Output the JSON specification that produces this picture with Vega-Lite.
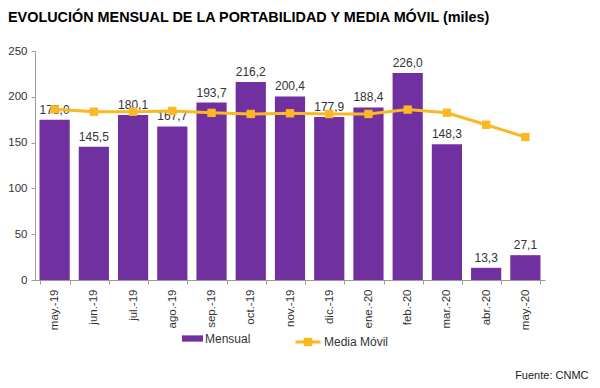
{
  "$schema": "https://vega.github.io/schema/vega-lite/v6.json",
  "width": 510,
  "height": 229,
  "autosize": {"type": "none"},
  "padding": {"left": 35, "top": 51, "right": 55, "bottom": 108},
  "background": "white",
  "title": {
    "text": "EVOLUCIÓN MENSUAL DE LA PORTABILIDAD Y MEDIA MÓVIL (miles)",
    "anchor": "start",
    "frame": "group",
    "dx": -27,
    "offset": 20,
    "font": "Liberation Sans",
    "fontSize": 14.4,
    "fontWeight": "bold",
    "color": "#000000"
  },
  "config": {
    "locale": {"number": {"decimal": ",", "thousands": ".", "grouping": [3], "currency": ["", " €"]}},
    "view": {"stroke": null},
    "axis": {
      "labelFont": "Liberation Sans",
      "labelFontSize": 11.5,
      "labelColor": "#333333",
      "domainColor": "#9a9a9a",
      "tickColor": "#9a9a9a",
      "tickSize": 4,
      "grid": false
    },
    "legend": {
      "labelFont": "Liberation Sans",
      "labelFontSize": 12,
      "labelColor": "#333333",
      "labelOffset": 2
    }
  },
  "data": {
    "values": [
      {"mes": "may.-19", "mensual": 175.0, "media": 186.3},
      {"mes": "jun.-19", "mensual": 145.5, "media": 183.7},
      {"mes": "jul.-19", "mensual": 180.1, "media": 183.7},
      {"mes": "ago.-19", "mensual": 167.7, "media": 184.6},
      {"mes": "sep.-19", "mensual": 193.7, "media": 182.5},
      {"mes": "oct.-19", "mensual": 216.2, "media": 181.3},
      {"mes": "nov.-19", "mensual": 200.4, "media": 182.0},
      {"mes": "dic.-19", "mensual": 177.9, "media": 181.2},
      {"mes": "ene.-20", "mensual": 188.4, "media": 181.3},
      {"mes": "feb.-20", "mensual": 226.0, "media": 186.0},
      {"mes": "mar.-20", "mensual": 148.3, "media": 182.6},
      {"mes": "abr.-20", "mensual": 13.3, "media": 169.5},
      {"mes": "may.-20", "mensual": 27.1, "media": 156.1}
    ]
  },
  "encoding": {
    "x": {
      "field": "mes",
      "type": "nominal",
      "sort": null,
      "scale": {"paddingInner": 0.23, "paddingOuter": 0.115},
      "axis": {
        "labelAngle": -90,
        "labelPadding": 5,
        "tickBand": "extent",
        "title": "Fuente: CNMC",
        "titleAnchor": "end",
        "titleAlign": "right",
        "titleBaseline": "middle",
        "titleX": 553,
        "titleY": 95,
        "titleFont": "Liberation Sans",
        "titleFontSize": 11,
        "titleFontWeight": "normal",
        "titleColor": "#222222"
      }
    }
  },
  "layer": [
    {
      "mark": {"type": "bar"},
      "encoding": {
        "y": {
          "field": "mensual",
          "type": "quantitative",
          "scale": {"domain": [0, 250], "nice": false},
          "axis": {"values": [0, 50, 100, 150, 200, 250], "title": null, "labelPadding": 4}
        },
        "fill": {
          "datum": "Mensual",
          "scale": {"range": ["#7030A0"]},
          "legend": {
            "orient": "none",
            "legendX": 147,
            "legendY": 277,
            "title": null,
            "symbolType": "M-1,-0.3H1V0.3H-1Z",
            "symbolSize": 441,
            "symbolStrokeWidth": 0
          }
        }
      }
    },
    {
      "mark": {"type": "text", "baseline": "bottom", "dy": -3, "font": "Liberation Sans", "fontSize": 12, "color": "#333333"},
      "encoding": {
        "y": {"field": "mensual", "type": "quantitative"},
        "text": {"field": "mensual", "type": "quantitative", "format": ".1f"}
      }
    },
    {
      "mark": {"type": "line", "strokeWidth": 3},
      "encoding": {
        "y": {"field": "media", "type": "quantitative"},
        "stroke": {
          "datum": "Media Móvil",
          "scale": {"range": ["#F9B824"]},
          "legend": {
            "orient": "none",
            "legendX": 259,
            "legendY": 277,
            "title": null,
            "symbolType": "M-1,0H1M-0.22,-0.22H0.22V0.22H-0.22Z",
            "symbolSize": 625,
            "symbolFillColor": "#F9B824",
            "symbolStrokeWidth": 3
          }
        }
      }
    },
    {
      "mark": {"type": "point", "shape": "square", "filled": true, "size": 70, "color": "#F9B824", "opacity": 1},
      "encoding": {
        "y": {"field": "media", "type": "quantitative"}
      }
    }
  ]
}
